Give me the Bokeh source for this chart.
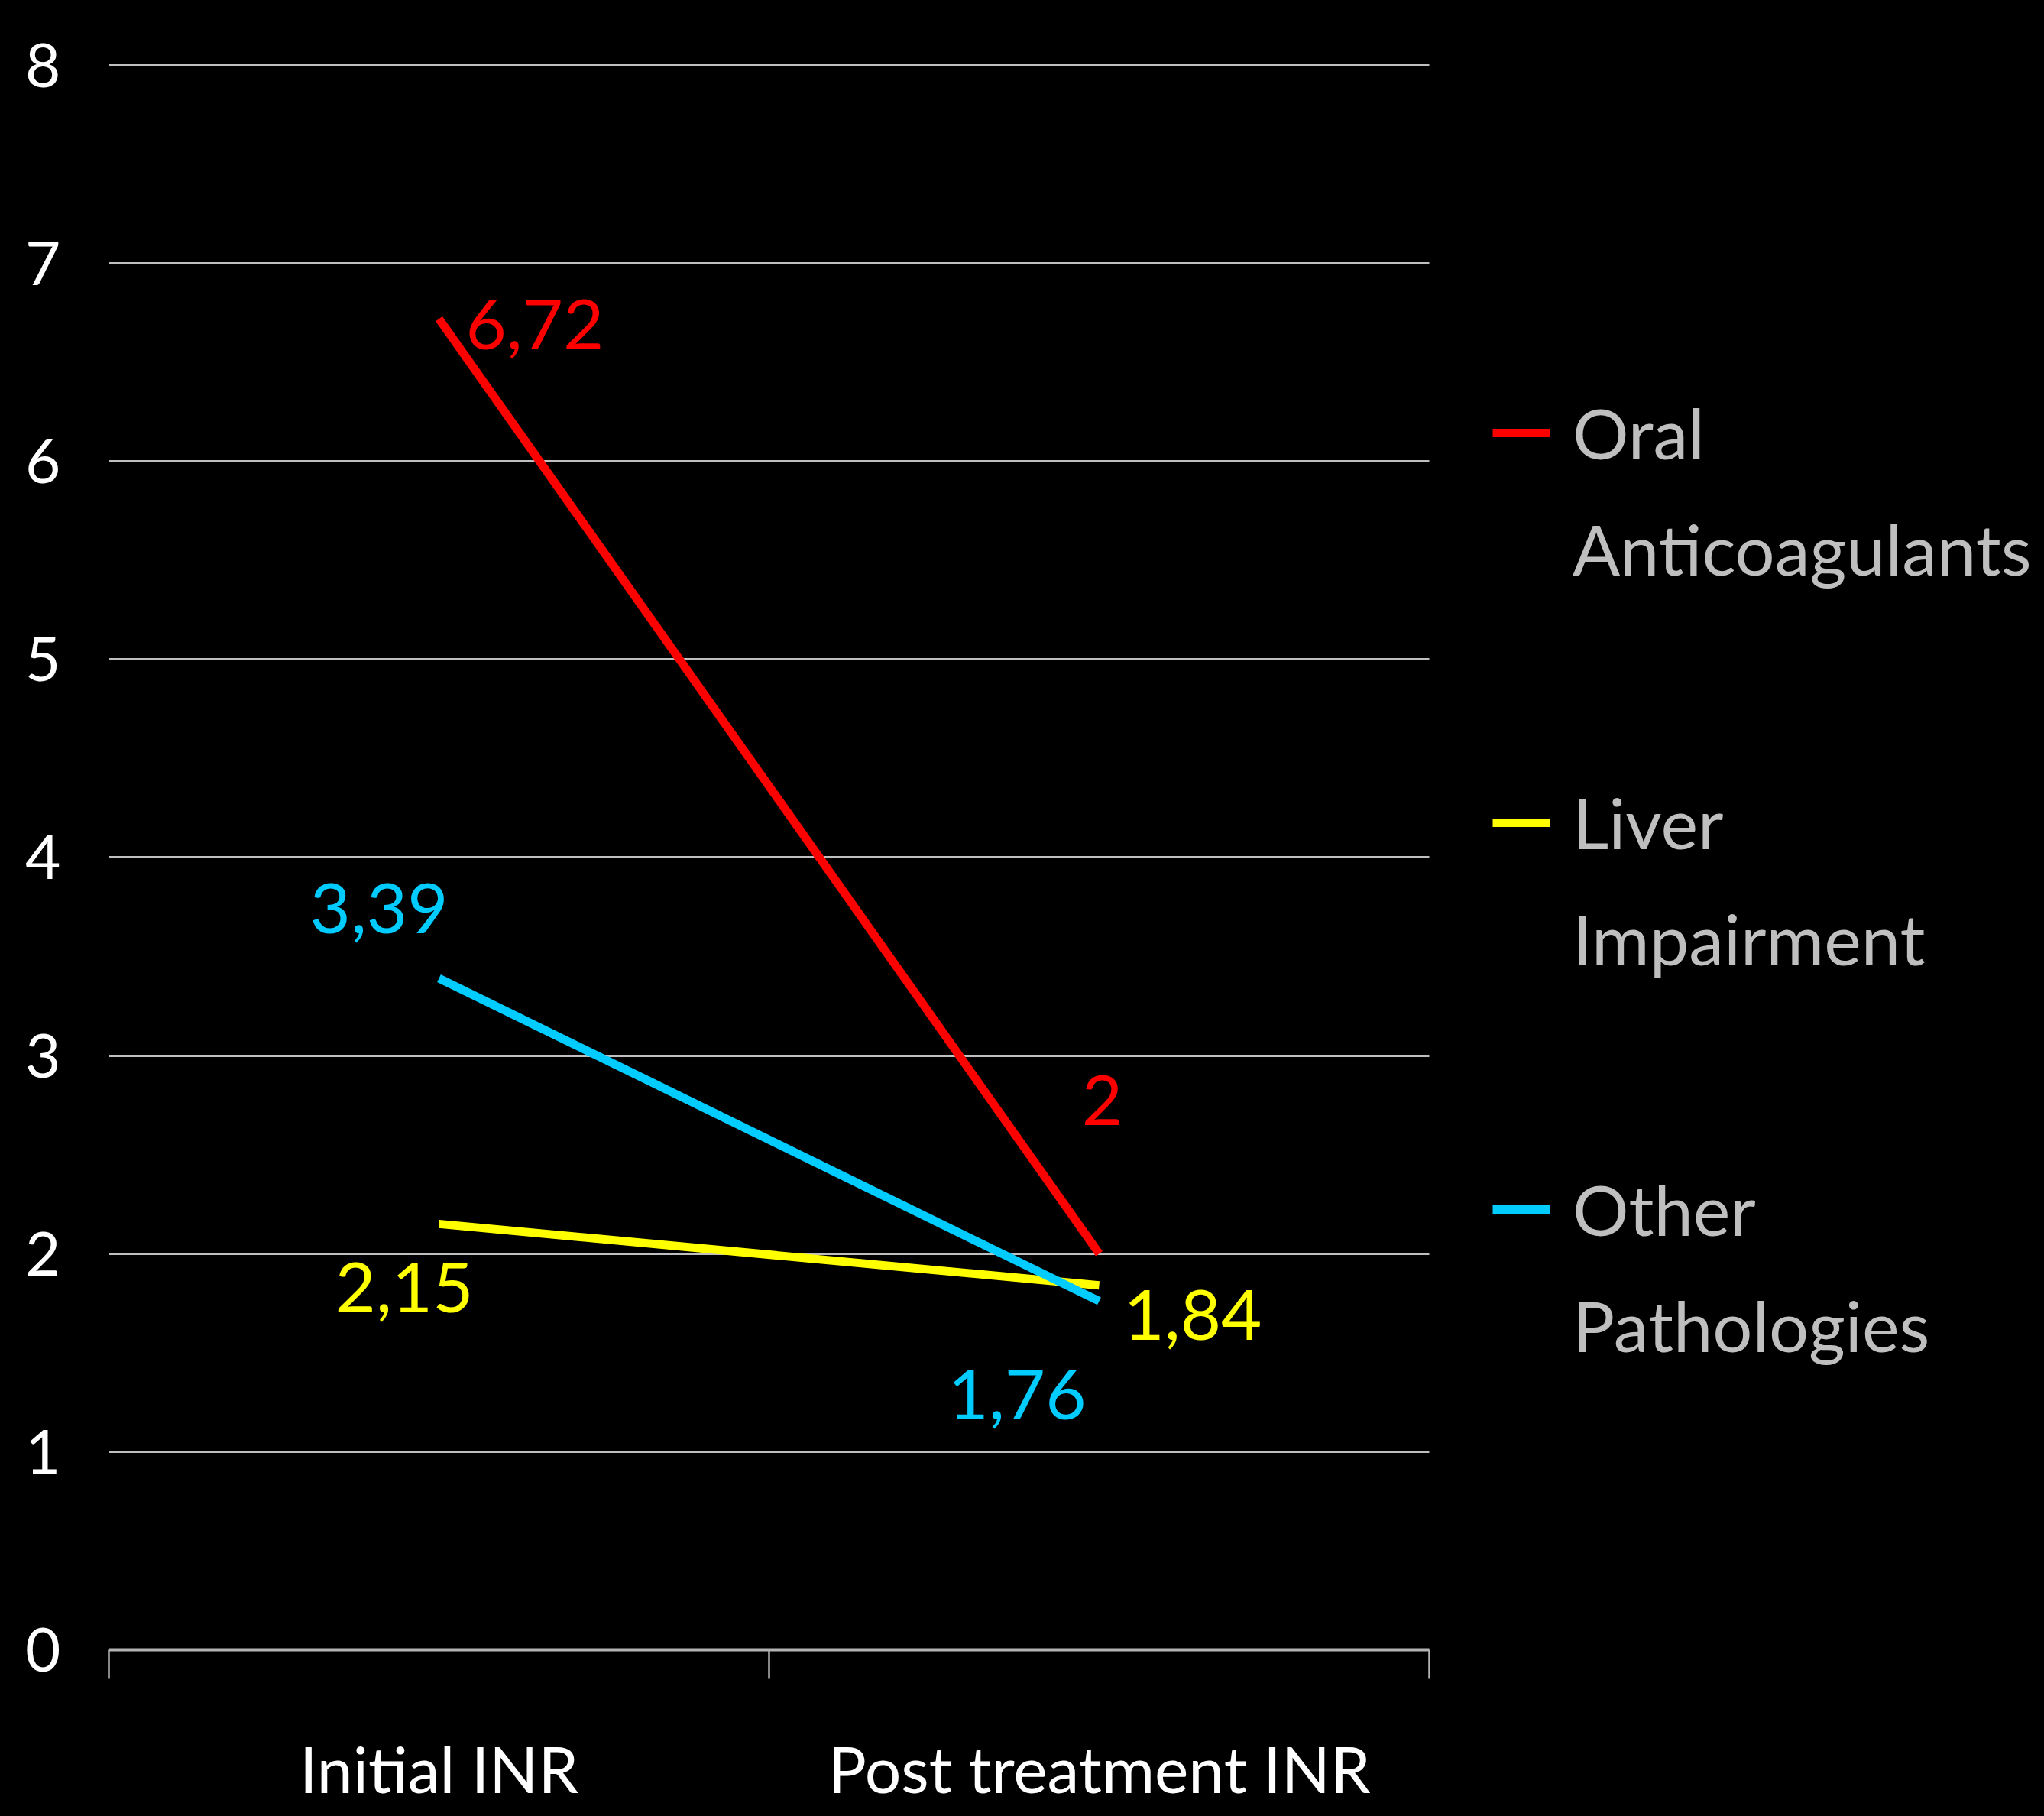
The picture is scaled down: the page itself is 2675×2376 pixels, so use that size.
from bokeh.plotting import figure
from bokeh.models import Range1d, FixedTicker, Legend, LegendItem, ColumnDataSource
from bokeh.core.properties import value
from bokeh.embed import file_html
from bokeh.resources import INLINE

# ---- data ----
categories = ["Initial INR", "Post treatment INR"]
series_labels = ["Oral\nAnticoagulants", "Liver\nImpairment", "Other\nPathologies"]
oral_anticoagulants = [6.72, 2.0]
liver_impairment = [2.15, 1.84]
other_pathologies = [3.39, 1.76]
y_ticks = [0, 1, 2, 3, 4, 5, 6, 7, 8]

FONT = "Lato"
W, H = 2675, 2376
LEFT = 142          # left border (px)
PLOT_W = 1728       # width of the category area (px)
n_cat = len(categories)
x_end = n_cat * (W - LEFT) / PLOT_W   # frame extends under the legend area

xs = [i + 0.5 for i in range(n_cat)]
bounds = list(range(n_cat + 1))

p = figure(width=W, height=H, output_backend="svg", toolbar_location=None,
           x_range=Range1d(0, x_end), y_range=Range1d(0, max(y_ticks) + 0.05),
           min_border_left=LEFT, min_border_right=0, min_border_top=72,
           min_border_bottom=218,
           background_fill_color="black", border_fill_color="black")
p.outline_line_color = None
p.styles = {"background-color": "black"}
try:
    from bokeh.models import GlobalInlineStyleSheet
    p.stylesheets = [GlobalInlineStyleSheet(css="html, body { background-color: black; }")]
except Exception:
    pass

# grid
p.xgrid.visible = False
p.ygrid.ticker = FixedTicker(ticks=y_ticks)
p.ygrid.grid_line_color = "#bfbfbf"
p.ygrid.grid_line_width = 3
p.ygrid.cross_bounds = (0, n_cat)

# x axis
xa = p.xaxis[0]
xa.bounds = (0, n_cat)
xa.ticker = FixedTicker(ticks=xs, minor_ticks=bounds)
xa.major_label_overrides = {x: c for x, c in zip(xs, categories)}
xa.major_tick_line_color = None
xa.major_tick_out = 0
xa.major_tick_in = 0
xa.minor_tick_out = 38
xa.minor_tick_in = 0
xa.minor_tick_line_color = "#b3b3b3"
xa.minor_tick_line_width = 2.5
xa.axis_line_color = "#b3b3b3"
xa.axis_line_width = 4
xa.major_label_text_font = FONT
xa.major_label_text_font_size = "84px"
xa.major_label_text_color = "white"
xa.major_label_standoff = 66

# y axis
ya = p.yaxis[0]
ya.ticker = FixedTicker(ticks=y_ticks)
ya.axis_line_color = None
ya.major_tick_line_color = None
ya.minor_tick_line_color = None
ya.major_tick_out = 0
ya.major_tick_in = 0
ya.major_label_standoff = 63
ya.major_label_text_font = FONT
ya.major_label_text_font_size = "80px"
ya.major_label_text_color = "white"

colors = ["#ff0000", "#ffff00", "#00ccff"]
series = [oral_anticoagulants, liver_impairment, other_pathologies]

renderers = []
for vals, col in zip(series, colors):
    r = p.line(xs, vals, line_color=col, line_width=11)
    renderers.append(r)

# data labels (placement offsets in screen px, per series per category)
label_align = [["left", "center"], ["right", "left"], ["right", "right"]]
label_dx = [[35, 4], [45, 32], [12, -17]]
label_dy = [[7, -201], [83, 39], [-92, 122]]

lx, ly, lt, lc, la, ldx, ldy = [], [], [], [], [], [], []
for si, (vals, col) in enumerate(zip(series, colors)):
    for ci, v in enumerate(vals):
        lx.append(xs[ci]); ly.append(v)
        lt.append(f"{v:g}".replace(".", ","))
        lc.append(col)
        la.append(label_align[si][ci])
        ldx.append(label_dx[si][ci]); ldy.append(label_dy[si][ci])

src = ColumnDataSource(dict(x=lx, y=ly, text=lt, color=lc, align=la, dx=ldx, dy=ldy))
p.text(x="x", y="y", text="text", source=src, text_color="color",
       text_align="align", x_offset="dx", y_offset="dy",
       text_baseline="alphabetic", text_font=value(FONT), text_font_size="92px")

# legend: one block per series, first line carries the line glyph
legend_y = [1385, 875, 369]
for lab, r, ly0 in zip(series_labels, renderers, legend_y):
    first, second = lab.split("\n")
    lg = Legend(items=[LegendItem(label=first, renderers=[r]),
                       LegendItem(label=second, renderers=[])],
                location=(1811, ly0), orientation="vertical",
                glyph_width=75, glyph_height=20, label_standoff=30,
                spacing=41, padding=0, margin=0,
                background_fill_alpha=0, border_line_color=None,
                label_text_font=FONT, label_text_font_size="92px",
                label_text_color="#bfbfbf")
    p.add_layout(lg)

open("out.html", "w").write(file_html(p, INLINE))
